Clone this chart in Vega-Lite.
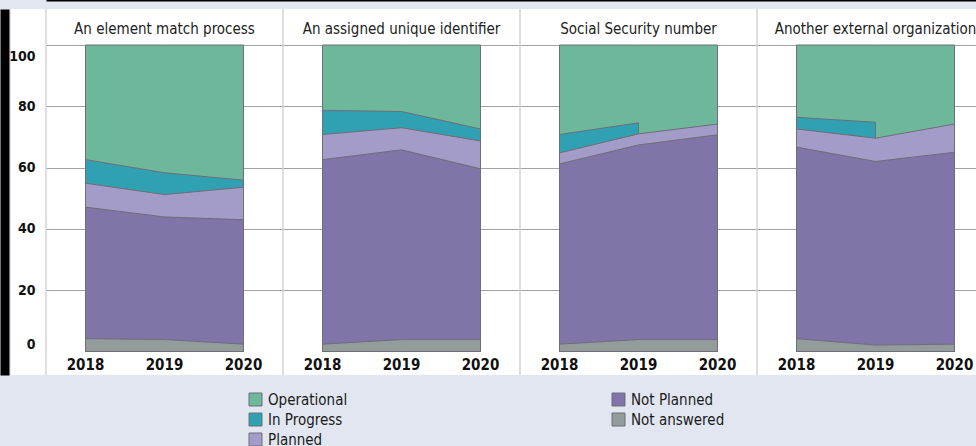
{
  "$schema": "https://vega.github.io/schema/vega-lite/v6.json",
  "background": "#e1e6f0",
  "padding": {"left": 4, "top": 0, "right": 0, "bottom": 0},
  "width": 965,
  "height": 366,
  "data": {"values": [
    {"panel": "An element match process", "year": 2018, "category": "Not answered", "value": 4.2},
    {"panel": "An element match process", "year": 2019, "category": "Not answered", "value": 3.9},
    {"panel": "An element match process", "year": 2020, "category": "Not answered", "value": 2.4},
    {"panel": "An element match process", "year": 2018, "category": "Not Planned", "value": 42.9},
    {"panel": "An element match process", "year": 2019, "category": "Not Planned", "value": 40.0},
    {"panel": "An element match process", "year": 2020, "category": "Not Planned", "value": 40.6},
    {"panel": "An element match process", "year": 2018, "category": "Planned", "value": 7.8},
    {"panel": "An element match process", "year": 2019, "category": "Planned", "value": 7.3},
    {"panel": "An element match process", "year": 2020, "category": "Planned", "value": 10.6},
    {"panel": "An element match process", "year": 2018, "category": "In Progress", "value": 7.7},
    {"panel": "An element match process", "year": 2019, "category": "In Progress", "value": 7.1},
    {"panel": "An element match process", "year": 2020, "category": "In Progress", "value": 2.3},
    {"panel": "An element match process", "year": 2018, "category": "Operational", "value": 37.4},
    {"panel": "An element match process", "year": 2019, "category": "Operational", "value": 41.7},
    {"panel": "An element match process", "year": 2020, "category": "Operational", "value": 44.1},
    {"panel": "An assigned unique identifier", "year": 2018, "category": "Not answered", "value": 2.4},
    {"panel": "An assigned unique identifier", "year": 2019, "category": "Not answered", "value": 3.9},
    {"panel": "An assigned unique identifier", "year": 2020, "category": "Not answered", "value": 3.9},
    {"panel": "An assigned unique identifier", "year": 2018, "category": "Not Planned", "value": 60.2},
    {"panel": "An assigned unique identifier", "year": 2019, "category": "Not Planned", "value": 61.9},
    {"panel": "An assigned unique identifier", "year": 2020, "category": "Not Planned", "value": 55.7},
    {"panel": "An assigned unique identifier", "year": 2018, "category": "Planned", "value": 8.2},
    {"panel": "An assigned unique identifier", "year": 2019, "category": "Planned", "value": 7.2},
    {"panel": "An assigned unique identifier", "year": 2020, "category": "Planned", "value": 9.1},
    {"panel": "An assigned unique identifier", "year": 2018, "category": "In Progress", "value": 7.9},
    {"panel": "An assigned unique identifier", "year": 2019, "category": "In Progress", "value": 5.3},
    {"panel": "An assigned unique identifier", "year": 2020, "category": "In Progress", "value": 3.9},
    {"panel": "An assigned unique identifier", "year": 2018, "category": "Operational", "value": 21.3},
    {"panel": "An assigned unique identifier", "year": 2019, "category": "Operational", "value": 21.7},
    {"panel": "An assigned unique identifier", "year": 2020, "category": "Operational", "value": 27.4},
    {"panel": "Social Security number", "year": 2018, "category": "Not answered", "value": 2.4},
    {"panel": "Social Security number", "year": 2019, "category": "Not answered", "value": 3.9},
    {"panel": "Social Security number", "year": 2020, "category": "Not answered", "value": 3.9},
    {"panel": "Social Security number", "year": 2018, "category": "Not Planned", "value": 58.8},
    {"panel": "Social Security number", "year": 2019, "category": "Not Planned", "value": 63.5},
    {"panel": "Social Security number", "year": 2020, "category": "Not Planned", "value": 66.8},
    {"panel": "Social Security number", "year": 2018, "category": "Planned", "value": 3.6},
    {"panel": "Social Security number", "year": 2019, "category": "Planned", "value": 3.6},
    {"panel": "Social Security number", "year": 2020, "category": "Planned", "value": 3.5},
    {"panel": "Social Security number", "year": 2018, "category": "In Progress", "value": 6.0},
    {"panel": "Social Security number", "year": 2019, "category": "In Progress", "value": 3.6},
    {"panel": "Social Security number", "year": 2018, "category": "Operational", "value": 29.2},
    {"panel": "Social Security number", "year": 2019, "category": "Operational", "value": 25.4},
    {"panel": "Social Security number", "year": 2020, "category": "Operational", "value": 25.8},
    {"panel": "Another external organization", "year": 2018, "category": "Not answered", "value": 4.2},
    {"panel": "Another external organization", "year": 2019, "category": "Not answered", "value": 2.1},
    {"panel": "Another external organization", "year": 2020, "category": "Not answered", "value": 2.4},
    {"panel": "Another external organization", "year": 2018, "category": "Not Planned", "value": 62.5},
    {"panel": "Another external organization", "year": 2019, "category": "Not Planned", "value": 59.9},
    {"panel": "Another external organization", "year": 2020, "category": "Not Planned", "value": 62.6},
    {"panel": "Another external organization", "year": 2018, "category": "Planned", "value": 5.9},
    {"panel": "Another external organization", "year": 2019, "category": "Planned", "value": 7.6},
    {"panel": "Another external organization", "year": 2020, "category": "Planned", "value": 9.2},
    {"panel": "Another external organization", "year": 2018, "category": "In Progress", "value": 3.8},
    {"panel": "Another external organization", "year": 2019, "category": "In Progress", "value": 5.2},
    {"panel": "Another external organization", "year": 2018, "category": "Operational", "value": 23.6},
    {"panel": "Another external organization", "year": 2019, "category": "Operational", "value": 25.2},
    {"panel": "Another external organization", "year": 2020, "category": "Operational", "value": 25.8}
  ]},
  "transform": [
    {"calculate": "indexof(['Not answered','Not Planned','Planned','In Progress','Operational'], datum.category)", "as": "ord"},
    {"calculate": "datum.panel + '|' + datum.year", "as": "key"},
    {"stack": "value", "groupby": ["panel", "year"], "sort": [{"field": "ord", "order": "ascending"}], "as": ["base", "top"]}
  ],
  "encoding": {
    "x": {"field": "key", "type": "ordinal",
      "scale": {"type": "band", "paddingInner": 0, "paddingOuter": 0, "range": [35, 983],
        "domain": ["An element match process|2018", "An element match process|2019", "An element match process|2020",
                   "An assigned unique identifier|2018", "An assigned unique identifier|2019", "An assigned unique identifier|2020",
                   "Social Security number|2018", "Social Security number|2019", "Social Security number|2020",
                   "Another external organization|2018", "Another external organization|2019", "Another external organization|2020"]},
      "axis": {"orient": "top", "title": null, "labels": false, "ticks": false, "grid": false, "domain": true, "domainColor": "black", "domainWidth": 2, "domainCap": "butt", "offset": 9}}
  },
  "layer": [
    {
      "transform": [{"filter": "datum.category === 'Operational' && datum.year === 2018"}],
      "mark": {"type": "rule", "color": "#d3d3d3", "strokeWidth": 1.5},
      "encoding": {
        "x": {"field": "key", "type": "ordinal", "bandPosition": 0}
      }
    },
    {
      "transform": [{"filter": "datum.category === 'Operational'"}],
      "mark": {"type": "area", "stroke": "#6e6e78", "strokeWidth": 1, "opacity": 1},
      "encoding": {
        "y": {"field": "top", "type": "quantitative", "stack": null, "scale": {"domain": [-7.667, 111.746], "nice": false, "zero": false},
          "axis": {"values": [0, 20, 40, 60, 80, 100], "title": null, "orient": "left", "offset": 6.5, "domain": true, "domainColor": "black", "domainWidth": 9, "domainCap": "butt", "ticks": false, "tickSize": 0, "labelAlign": "right", "labelPadding": -30.5, "labelFont": "DejaVu Sans Condensed, DejaVu Sans", "labelFontSize": 14, "labelFontWeight": "bold", "labelColor": "#111111", "labelFlush": false,
            "labelBaseline": {"condition": [{"test": "datum.value === 100", "value": "top"}, {"test": "datum.value === 0", "value": "bottom"}], "value": "middle"},
            "labelOffset": {"condition": {"test": "datum.value === 100", "value": 4}, "value": 0},
            "gridDash": [1, 1], "gridColor": {"condition": {"test": "datum.value === 0", "value": "transparent"}, "value": "#444444"}}},
        "y2": {"datum": 0},
        "detail": {"field": "panel", "type": "nominal"},
        "color": {"field": "category", "type": "nominal",
          "scale": {"domain": ["Operational", "In Progress", "Planned", "Not Planned", "Not answered"], "range": ["#6db89a", "#2fa1b3", "#a39cc8", "#8074a8", "#949b9b"]},
          "legend": {"orient": "none", "legendX": 237, "legendY": 383, "columns": 2, "columnPadding": 262, "rowPadding": 3, "padding": 0, "title": null, "symbolType": "square", "symbolSize": 169, "symbolStrokeColor": "#888888", "symbolStrokeWidth": 1, "symbolOpacity": 1, "labelFont": "DejaVu Sans Condensed, DejaVu Sans", "labelFontSize": 15, "labelColor": "#1a1a1a", "labelOffset": 5}}
      }
    },
    {
      "transform": [{"filter": "datum.category === 'In Progress'"}],
      "mark": {"type": "area", "stroke": "#6e6e78", "strokeWidth": 1, "opacity": 1},
      "encoding": {
        "y": {"field": "top", "type": "quantitative", "stack": null},
        "y2": {"datum": 0},
        "detail": {"field": "panel", "type": "nominal"},
        "color": {"field": "category", "type": "nominal"}
      }
    },
    {
      "transform": [{"filter": "datum.category === 'Planned'"}],
      "mark": {"type": "area", "stroke": "#6e6e78", "strokeWidth": 1, "opacity": 1},
      "encoding": {
        "y": {"field": "top", "type": "quantitative", "stack": null},
        "y2": {"datum": 0},
        "detail": {"field": "panel", "type": "nominal"},
        "color": {"field": "category", "type": "nominal"}
      }
    },
    {
      "transform": [{"filter": "datum.category === 'Not Planned'"}],
      "mark": {"type": "area", "stroke": "#6e6e78", "strokeWidth": 1, "opacity": 1},
      "encoding": {
        "y": {"field": "top", "type": "quantitative", "stack": null},
        "y2": {"datum": 0},
        "detail": {"field": "panel", "type": "nominal"},
        "color": {"field": "category", "type": "nominal"}
      }
    },
    {
      "transform": [{"filter": "datum.category === 'Not answered'"}],
      "mark": {"type": "area", "stroke": "#6e6e78", "strokeWidth": 1, "opacity": 1},
      "encoding": {
        "y": {"field": "top", "type": "quantitative", "stack": null},
        "y2": {"datum": 0},
        "detail": {"field": "panel", "type": "nominal"},
        "color": {"field": "category", "type": "nominal"}
      }
    },
    {
      "transform": [{"filter": "datum.category === 'Operational' && datum.year === 2019"}],
      "mark": {"type": "text", "font": "DejaVu Sans Condensed, DejaVu Sans", "fontSize": 15, "color": "#222222", "baseline": "middle", "align": "center"},
      "encoding": {
        "y": {"datum": 105.3},
        "text": {"field": "panel", "type": "nominal"}
      }
    },
    {
      "transform": [{"filter": "datum.category === 'Operational'"}],
      "mark": {"type": "text", "font": "DejaVu Sans Condensed, DejaVu Sans", "fontSize": 15, "fontWeight": "bold", "color": "#111111", "baseline": "middle", "align": "center"},
      "encoding": {
        "y": {"datum": -4.4},
        "text": {"field": "year", "type": "ordinal"}
      }
    }
  ],
  "config": {
    "view": {"fill": "white", "stroke": null}
  }
}
